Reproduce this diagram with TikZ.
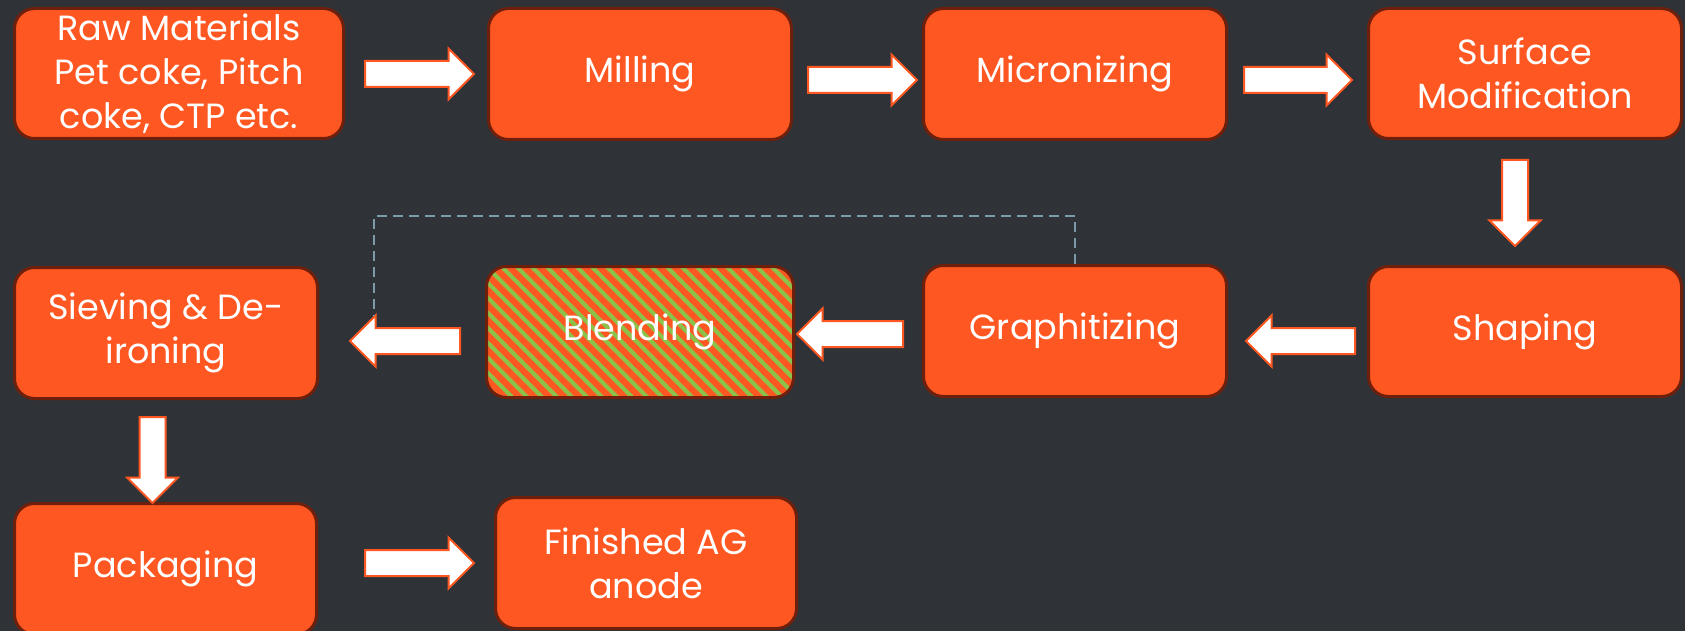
\documentclass[tikz,border=0pt]{standalone}
\usepackage{fontspec}
\setmainfont{Poppins}
\usetikzlibrary{shapes.arrows}
\definecolor{bg}{HTML}{2F3337}
\definecolor{boxfill}{HTML}{FF5722}
\definecolor{boxline}{HTML}{6E200D}
\definecolor{stripe}{HTML}{8BC34A}
\definecolor{dashc}{HTML}{7A9BAA}
\begin{document}
\begin{tikzpicture}[x=1pt,y=-1pt,
  proc/.style={rectangle, rounded corners=20pt, fill=boxfill, draw=boxline,
    line width=3pt, text=white, align=center, inner sep=0pt,
    font=\fontsize{35}{44}\selectfont},
  barrow/.style={single arrow, fill=white, draw=boxfill, line width=2pt,
    minimum width=50pt, single arrow head extend=12.5pt, anchor=tail},
  harrow/.style={barrow, inner xsep=0pt, inner ysep=12pt},
  varrow/.style={barrow, inner xsep=12pt, inner ysep=0pt, shape border rotate=270},
  dashline/.style={draw=dashc, line width=2pt, dash pattern=on 10pt off 6pt}
]
\clip (0,0) rectangle (1685,631);
\fill[bg] (0,0) rectangle (1685,631);

% boxes
\node[proc, minimum width=329pt, minimum height=130pt] (raw) at (179,73.5) {Raw Materials\\Pet coke, Pitch\\coke, CTP etc.};
\node[proc, minimum width=303pt, minimum height=131pt] (mill) at (640,74) {Milling};
\node[proc, minimum width=303pt, minimum height=131pt] (micro) at (1075,74) {Micronizing};
\node[proc, minimum width=313pt, minimum height=130pt] (surf) at (1525,73.5) {Surface\\Modification};
\node[proc, minimum width=313pt, minimum height=130pt] (shape) at (1525,331.5) {Shaping};
\node[proc, minimum width=303pt, minimum height=131pt] (graph) at (1075,331) {Graphitizing};
\node[proc, minimum width=307pt, minimum height=131pt,
  path picture={\foreach \i in {-14,...,28}{
     \draw[stripe, line width=4pt] ([xshift=\i*15pt]path picture bounding box.north west) -- ++(160pt,-160pt);}}
  ] (blend) at (640,332) {Blending};
\node[proc, minimum width=303pt, minimum height=131pt] (sieve) at (166,333) {Sieving \& De-\\ironing};
\node[proc, minimum width=302pt, minimum height=131pt] (pack) at (165.5,569) {Packaging};
\node[proc, minimum width=301pt, minimum height=131pt] (fin) at (646,563) {Finished AG\\anode};

% block arrows (placed by their tail)
\node[harrow, minimum height=109pt] (a1) at (364,74) {};
\node[harrow, minimum height=109pt] (a2) at (807,80) {};
\node[harrow, minimum height=108pt] (a3) at (1243,80) {};
\node[varrow, minimum height=86pt] (a4) at (1515,159) {};
\node[harrow, minimum height=109pt, shape border rotate=180] (a5) at (1356,341) {};
\node[harrow, minimum height=106pt, shape border rotate=180] (a6) at (904,334) {};
\node[harrow, minimum height=110pt, shape border rotate=180] (a7) at (461,341) {};
\node[varrow, minimum height=86pt] (a8) at (152.5,416) {};
\node[harrow, minimum height=109pt] (a9) at (364,563) {};

% dashed feedback line
\coordinate (dend) at (374,316);
\draw[dashline] (graph.north) -- ++(0,-48) -| (dend);
\end{tikzpicture}
\end{document}
